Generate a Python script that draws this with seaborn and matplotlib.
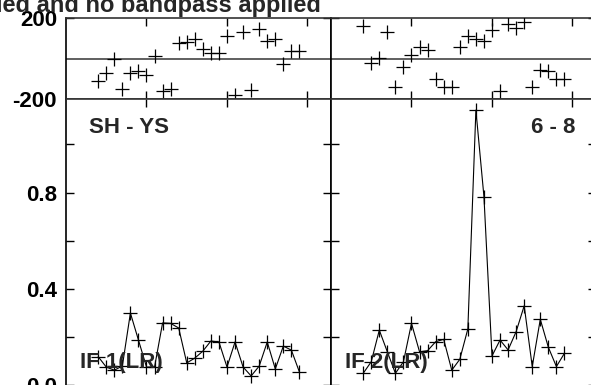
import matplotlib
matplotlib.use("Agg")
import matplotlib.pyplot as plt
import pandas as pd
import seaborn as sns

# channel numbers (both IFs)
channels = list(range(4, 30))

# phase in degrees
phase_if1 = [-110, -70, 0, -151, -73, -60, -81, 13, -161, -151, 79, 84, 97,
             46, 26, 29, 112, -180, 133, -156, 145, 89, 97, -27, 39, 39]
phase_if2 = [162, -20, 1, 133, -139, -43, 18, 56, 43, -103, -142, -139, 56,
             112, 96, 89, 142, -159, 172, 150, 183, -139, -57, -60, -103, -103]

# amplitude
amp_if1 = [0.119, 0.076, 0.063, 0.080, 0.300, 0.188, 0.076, 0.076, 0.259,
           0.257, 0.238, 0.093, 0.113, 0.142, 0.184, 0.180, 0.076, 0.180,
           0.076, 0.039, 0.080, 0.180, 0.068, 0.163, 0.146, 0.055]
amp_if2 = [0.050, 0.098, 0.229, 0.139, 0.050, 0.098, 0.257, 0.139, 0.144,
           0.181, 0.191, 0.063, 0.108, 0.234, 1.142, 0.783, 0.122, 0.188,
           0.147, 0.223, 0.330, 0.078, 0.274, 0.158, 0.078, 0.133]

if_labels = ["IF 1(LR)", "IF 2(LR)"]
baseline_label = "SH - YS"
stokes_label = "6 - 8"
title = "ied and no bandpass applied"

sns.set_style("ticks")
plt.rcParams["font.family"] = ["Liberation Sans", "DejaVu Sans"]
plt.rcParams["font.weight"] = "bold"

W, H = 591, 385
fig = plt.figure(figsize=(W / 100, H / 100), dpi=100)


def px_axes(x0, y0, x1, y1):
    return fig.add_axes([x0 / W, 1 - y1 / H, (x1 - x0) / W, (y1 - y0) / H])


def style(ax):
    for name, s in ax.spines.items():
        s.set_color("black" if name in ("left", "right") else "#333333")
        s.set_linewidth(1.2)
    ax.tick_params(direction="in", length=6, width=1.0, top=True, right=True,
                   labelsize=16, pad=6.5, colors="black")
    ax.set_xlim(0, 32.92)
    ax.set_xticks([10, 20, 30])
    ax.set_xticklabels([])
    ax.set_xlabel("")
    ax.set_ylabel("")
    ax.set_facecolor("white")


panels = [(66, 331, phase_if1, amp_if1), (331, 596, phase_if2, amp_if2)]
for i, (x0, x1, ph, amp) in enumerate(panels):
    df = pd.DataFrame({"chan": channels, "phase": ph, "amp": amp})

    axp = px_axes(x0, 18.3, x1, 99)
    axp.axhline(0, color="#444444", lw=1.2, zorder=1)
    sns.scatterplot(data=df, x="chan", y="phase", marker="+", s=95,
                    color="black", linewidth=0.9, ax=axp, zorder=3)
    axp.set_ylim(-200, 200)
    style(axp)
    axp.set_yticks([-200, 200])
    axp.set_yticklabels(["-200", "200"] if i == 0 else [])

    axa = px_axes(x0, 99, x1, 395)
    sns.lineplot(data=df, x="chan", y="amp", marker="+", markersize=10,
                 markeredgewidth=0.9, markeredgecolor="black",
                 color="black", linewidth=0.8, ax=axa)
    axa.set_ylim(-0.040, 1.188)
    style(axa)
    axa.set_yticks([0.0, 0.2, 0.4, 0.6, 0.8, 1.0])
    axa.set_yticklabels(["0.0", "", "0.4", "", "0.8", ""] if i == 0 else [])

    fig.text((x0 + 14) / W, 1 - 368 / H, if_labels[i], ha="left",
             va="baseline", fontsize=16, fontweight="bold")

fig.text(89 / W, 1 - 133 / H, baseline_label, ha="left", va="baseline",
         fontsize=16, fontweight="bold")
fig.text(575 / W, 1 - 133 / H, stokes_label, ha="right", va="baseline",
         fontsize=16, fontweight="bold")
fig.text(321 / W, 1 - 12 / H, title, ha="right", va="baseline",
         fontsize=17, fontweight="bold")

fig.savefig("out.png", dpi=100)
